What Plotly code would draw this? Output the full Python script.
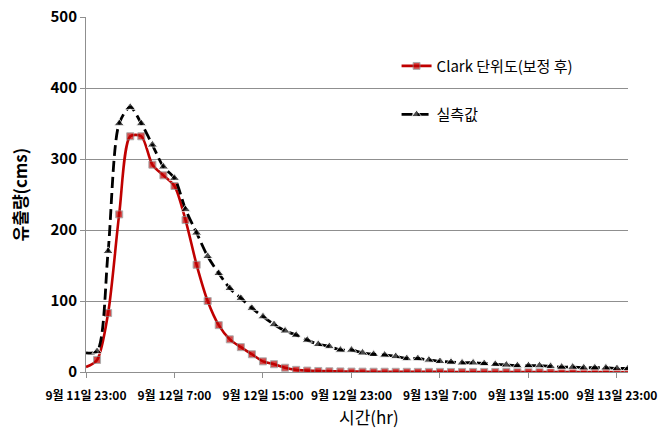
import plotly.graph_objects as go

# Hours elapsed since 9/11 23:00 (hourly observations)
hours = list(range(50))

# Simulated runoff, Clark unit hydrograph (after calibration), cms
clark = [7, 17, 83, 222, 332, 332, 292, 277, 262, 214,
         151, 100, 66, 46, 35, 25, 15, 11, 6, 3,
         2, 1.5, 1, 0.8, 0.6, 0.5, 0.4, 0.4, 0.3, 0.3,
         0.2, 0.2, 0.2, 0.1, 0.1, 0.1, 0.1, 0.1, 0.1, 0.1,
         0.1, 0.1, 0.1, 0.1, 0.1, 0.1, 0.1, 0.1, 0.1, 0.1]

# Observed runoff, cms
observed = [27, 29, 170, 350, 373, 350, 320, 289, 273, 229,
            196, 163, 139, 118, 104, 90, 78, 67, 58, 52,
            45, 39, 36, 31, 31, 27, 25, 24, 22, 19,
            19, 17, 15, 14, 13, 13, 12, 11, 10, 9,
            9, 9, 8, 7, 7, 6, 6, 6, 5, 5]

tick_hours = [0, 8, 16, 24, 32, 40, 48]
tick_labels = ["9월 11일 23:00", "9월 12일 7:00", "9월 12일 15:00",
               "9월 12일 23:00", "9월 13일 7:00", "9월 13일 15:00",
               "9월 13일 23:00"]

y_ticks = [0, 100, 200, 300, 400, 500]

FONT = "Noto Sans CJK KR"
GRID = "#8f8f8f"

# first sample sits on the axis and carries no marker
sq_sizes = [0] + [7] * (len(hours) - 1)
tri_sizes = [0] + [9] * (len(hours) - 1)

fig = go.Figure()

fig.add_trace(go.Scatter(
    x=hours, y=clark, name="Clark 단위도(보정 후)",
    mode="lines+markers", legendgroup="a",
    line=dict(color="#C00000", width=2.6, shape="spline", smoothing=0.8),
    marker=dict(symbol="square", size=sq_sizes, color="#C00000",
                line=dict(color="#8a8a8a", width=1)),
))

fig.add_trace(go.Scatter(
    x=hours, y=observed, name="실측값",
    mode="lines+markers", legendgroup="b",
    line=dict(color="#000000", width=2.8, dash="11px,5px", shape="spline", smoothing=0.8),
    marker=dict(symbol="triangle-up", size=tri_sizes, color="#000000"),
))

fig.update_layout(
    width=659, height=430,
    margin=dict(l=86, r=31, t=17, b=58),
    paper_bgcolor="white", plot_bgcolor="white",
    font=dict(family=FONT, color="#000000"),
    showlegend=True,
    legend=dict(
        x=0.573, y=0.908, xanchor="left", yanchor="top",
        font=dict(family=FONT, size=15, color="#000000"),
        tracegroupgap=26, bgcolor="rgba(255,255,255,0)",
        itemwidth=30,
    ),
    xaxis=dict(
        range=[0, 49], automargin=False,
        tickmode="array", tickvals=tick_hours, ticktext=tick_labels,
        tickangle=0, ticklabelstandoff=8,
        tickfont=dict(family=FONT, size=12, color="#000000", weight="bold"),
        ticks="outside", ticklen=5, tickcolor=GRID,
        showline=True, linecolor=GRID, linewidth=1,
        showgrid=False, zeroline=False,
    ),
    yaxis=dict(
        range=[0, 500], automargin=False,
        tickmode="array", tickvals=y_ticks,
        tickfont=dict(family=FONT, size=15, color="#000000", weight="bold"),
        ticks="outside", ticklen=5, tickcolor=GRID,
        showline=True, linecolor=GRID, linewidth=1,
        showgrid=True, gridcolor=GRID, gridwidth=1,
        zeroline=False,
    ),
    annotations=[
        dict(text="시간(hr)", xref="paper", yref="paper",
             x=0.522, y=-0.125, xanchor="center", yanchor="middle",
             showarrow=False,
             font=dict(family=FONT, size=17, color="#000000")),
        dict(text="유출량(cms)", xref="paper", yref="paper",
             x=-0.122, y=0.5, xanchor="center", yanchor="middle",
             textangle=-90, showarrow=False,
             font=dict(family=FONT, size=17, color="#000000", weight="bold")),
    ],
)

fig.write_html("out.html")
